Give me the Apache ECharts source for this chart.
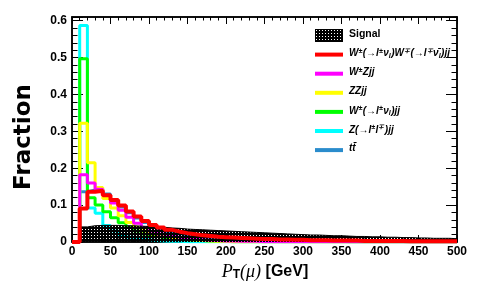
<!DOCTYPE html>
<html>
<head>
<meta charset="utf-8">
<script src="https://cdn.jsdelivr.net/npm/echarts@6/dist/echarts.min.js"></script>
<style>html,body{margin:0;padding:0;background:#fff;}#c{width:477px;height:307px;}</style>
</head>
<body>
<div id="c"></div>
<script>
// Bin low edges (GeV), 10 GeV bins
const binLow = [0,10,20,30,40,50,60,70,80,90,100,110,120,130,140,150,160,170,180,190,200,210,220,230,240,250,260,270,280,290,300,310,320,330,340,350,360,370,380,390,400,410,420,430,440,450,460,470,480,490];
const binHighEnd = 500;
const xTicks = [0,50,100,150,200,250,300,350,400,450,500];
const yTicks = [0,0.1,0.2,0.3,0.4,0.5,0.6];

const legendNames = ['Signal','WW','WZ','ZZ','W','Z','tt'];

const signalVals = [0,0.041,0.044,0.045,0.045,0.045,0.044,0.044,0.043,0.042,0.041,0.040,0.038,0.037,0.035,0.034,0.033,0.032,0.031,0.030,0.029,0.028,0.027,0.026,0.025,0.024,0.023,0.022,0.021,0.020,0.019,0.019,0.018,0.017,0.017,0.016,0.015,0.015,0.014,0.014,0.013,0.013,0.012,0.012,0.011,0.011,0.010,0.010,0.010,0.009];
const wwVals = [0,0.091,0.136,0.139,0.127,0.114,0.099,0.083,0.069,0.057,0.046,0.039,0.033,0.028,0.024,0.021,0.018,0.016,0.014,0.013,0.012,0.011,0.010,0.009,0.008,0.008,0.007,0.007,0.006,0.006,0.005,0.005,0.005,0.004,0.004,0.004,0.004,0.003,0.003,0.003,0.003,0.003,0.003,0.002,0.002,0.002,0.002,0.002,0.002,0.002];
const wzVals = [0,0.182,0.160,0.143,0.126,0.106,0.086,0.067,0.051,0.039,0.029,0.022,0.017,0.013,0.010,0.008,0.006,0.005,0.004,0.003,0.003,0.002,0.002,0.002,0.001,0.001,0.001,0.001,0.001,0.001,0.001,0.001,0.001,0.001,0.001,0.001,0.001,0.001,0.001,0.001,0.001,0.001,0.001,0.001,0.001,0.001,0.001,0.001,0.001,0.001];
const zzVals = [0,0.322,0.215,0.148,0.118,0.092,0.071,0.053,0.040,0.030,0.022,0.016,0.012,0.009,0.007,0.005,0.004,0.003,0.002,0.002,0.001,0.001,0.001,0.001,0.001,0.001,0.001,0.001,0.001,0.001,0.001,0.001,0.001,0.001,0.001,0.001,0.001,0.001,0.001,0.001,0.001,0.001,0.001,0.001,0.001,0.001,0.001,0.001,0.001,0.001];
const wVals = [0,0.497,0.120,0.100,0.082,0.066,0.052,0.040,0.030,0.022,0.016,0.012,0.009,0.007,0.006,0.005,0.004,0.003,0.002,0.002,0.001,0.001,0.001,0.001,0.001,0.001,0.001,0.001,0.001,0.001,0.001,0.001,0.001,0.001,0.001,0.001,0.001,0.001,0.001,0.001,0.001,0.001,0.001,0.001,0.001,0.001,0.001,0.001,0.001,0.001];
const zVals = [0,0.587,0.092,0.078,0.045,0.030,0.020,0.013,0.009,0.006,0.004,0.003,0.002,0.002,0.001,0.001,0.001,0.001,0.001,0.001,0.001,0.001,0.001,0.001,0.001,0.001,0.001,0.001,0.001,0.001,0.001,0.001,0.001,0.001,0.001,0.001,0.001,0.001,0.001,0.001,0.001,0.001,0.001,0.001,0.001,0.001,0.001,0.001,0.001,0.001];
const ttVals = [0,0.136,0.141,0.142,0.130,0.112,0.095,0.079,0.065,0.053,0.043,0.035,0.028,0.023,0.019,0.016,0.013,0.011,0.009,0.008,0.007,0.006,0.005,0.004,0.004,0.003,0.003,0.003,0.002,0.002,0.002,0.002,0.002,0.002,0.002,0.001,0.001,0.001,0.001,0.001,0.001,0.001,0.001,0.001,0.001,0.001,0.001,0.001,0.001,0.001];

function stepData(vals){
  const d = binLow.map((x,i)=>[x, vals[i]]);
  d.push([binHighEnd, vals[vals.length-1]]);
  return d;
}

// dotted black pattern for the signal
const pc = document.createElement('canvas');
pc.width = 3; pc.height = 3;
const pctx = pc.getContext('2d');
pctx.fillStyle = '#000'; pctx.fillRect(0,0,3,3);
pctx.clearRect(1,1,1,1);
const pattern = {image: pc, repeat: 'repeat'};

const chart = echarts.init(document.getElementById('c'), null, {renderer:'canvas'});

function lineSeries(name, vals, color, width, z){
  return {name, type:'line', step:'end', data: stepData(vals), showSymbol:false, symbol:'none',
    lineStyle:{color, width}, itemStyle:{color}, z, animation:false, clip:true};
}

const lblFont = {fontFamily:'Liberation Sans', fontWeight:'bold', fontSize:12, color:'#000'};
const legFont = {fontFamily:'Liberation Sans', fontWeight:'bold', fontStyle:'italic', fontSize:10, color:'#000'};
const supSt = {fontFamily:'Liberation Sans', fontWeight:'bold', fontStyle:'italic', fontSize:7, color:'#000', verticalAlign:'top', padding:[0,0.5,5,0]};
const subSt = {fontFamily:'Liberation Sans', fontWeight:'bold', fontStyle:'italic', fontSize:7, color:'#000', verticalAlign:'bottom', padding:[4,0.5,0,0]};
const legRich = {a: legFont, s: supSt, b: subSt, n:{fontFamily:'Liberation Sans', fontWeight:'bold', fontSize:10.5, color:'#000'}};

const legendTexts = [
  '{n|Signal}',
  '{a|W}{s|±}{a|(→l}{s|±}{a|ν}{b|l}{a|)W}{s|∓}{a|(→l}{s|∓}{a|ν\u0304}{b|l}{a|)jj}',
  '{a|W}{s|±}{a|Zjj}',
  '{a|ZZjj}',
  '{a|W}{s|±}{a|(→l}{s|±}{a|ν}{b|l}{a|)jj}',
  '{a|Z(→l}{s|±}{a|l}{s|∓}{a|)jj}',
  '{a|tt\u0304}'
];
const legendColors = [null,'#ff0000','#ff00ff','#ffff00','#00ff00','#00ffff','#2a8ccc'];

const graphics = [];
legendNames.forEach((nm,i)=>{
  const yc = 35.5 + i*19.1;
  if(i===0){
    graphics.push({type:'rect', left:315, top:29, shape:{width:28, height:13}, style:{fill:pattern}});
  } else {
    graphics.push({type:'rect', left:315, top:yc-2, shape:{width:28, height:4}, style:{fill:legendColors[i]}});
  }
  graphics.push({type:'text', left:349, top:yc-7, style:{text:legendTexts[i], rich:legRich, textVerticalAlign:'top'}});
});
// y axis title
graphics.push({type:'text', x:24, y:137, rotation:Math.PI/2, style:{text:'Fraction', fontFamily:'DejaVu Sans', fontWeight:'bold', fontSize:23, fill:'#000', textAlign:'center', textVerticalAlign:'middle'}});
// x axis title
graphics.push({type:'text', x:265, y:272, style:{
  text:'{p|P}{t|T}{m|(μ)}{g| [GeV]}', textAlign:'center', textVerticalAlign:'middle',
  rich:{
    p:{fontFamily:'Liberation Serif', fontStyle:'italic', fontSize:18, color:'#000'},
    t:{fontFamily:'Liberation Sans', fontWeight:'bold', fontSize:12, color:'#000', verticalAlign:'bottom', padding:[5,0,0,0]},
    m:{fontFamily:'Liberation Serif', fontStyle:'italic', fontSize:18, color:'#000'},
    g:{fontFamily:'Liberation Sans', fontWeight:'bold', fontSize:16, color:'#000'}
  }}});

const axLine = {show:true, onZero:false, lineStyle:{color:'#000', width:1.5}};
const option = {
  animation:false,
  backgroundColor:'#fff',
  grid:{left:72, right:20, top:17, bottom:65, show:true, borderColor:'#000', borderWidth:1.5, backgroundColor:'transparent'},
  xAxis:[
    {type:'value', min:xTicks[0], max:xTicks[xTicks.length-1], interval:50, position:'bottom',
     axisLine:axLine, axisTick:{show:true, inside:true, length:7, lineStyle:{color:'#000', width:1}},
     minorTick:{show:true, splitNumber:5, length:3.5, lineStyle:{color:'#000', width:1}},
     axisLabel:Object.assign({margin:4}, lblFont), splitLine:{show:false}},
    {type:'value', min:xTicks[0], max:xTicks[xTicks.length-1], interval:50, position:'top',
     axisLine:axLine, axisTick:{show:true, inside:true, length:7, lineStyle:{color:'#000', width:1}},
     minorTick:{show:true, splitNumber:5, length:3.5, lineStyle:{color:'#000', width:1}},
     axisLabel:{show:false}, splitLine:{show:false}}
  ],
  yAxis:[
    {type:'value', min:yTicks[0], max:0.61, interval:0.1, position:'left',
     axisLine:axLine, axisTick:{show:true, inside:true, length:11, lineStyle:{color:'#000', width:1}},
     minorTick:{show:true, splitNumber:5, length:5.5, lineStyle:{color:'#000', width:1}},
     axisLabel:Object.assign({margin:5, showMaxLabel:false, formatter:v=> (yTicks.indexOf(Math.round(v*10)/10)>=0 && Math.abs(v*10-Math.round(v*10))<1e-6) ? (v===0?'0':v.toFixed(1)) : ''}, lblFont),
     splitLine:{show:false}},
    {type:'value', min:yTicks[0], max:0.61, interval:0.1, position:'right',
     axisLine:axLine, axisTick:{show:true, inside:true, length:11, lineStyle:{color:'#000', width:1}},
     minorTick:{show:true, splitNumber:5, length:5.5, lineStyle:{color:'#000', width:1}},
     axisLabel:{show:false}, splitLine:{show:false}}
  ],
  graphic: graphics,
  series:[
    lineSeries('tt', ttVals, '#2a8ccc', 3, 2),
    lineSeries('Z', zVals, '#00ffff', 3, 3),
    lineSeries('W', wVals, '#00ff00', 3, 4),
    lineSeries('ZZ', zzVals, '#ffff00', 3, 5),
    lineSeries('WZ', wzVals, '#ff00ff', 3, 6),
    {name:'Signal', type:'line', step:'end', data:stepData(signalVals), showSymbol:false, symbol:'none',
     lineStyle:{color:'#000', width:1}, areaStyle:{color:pattern, opacity:1, origin:'start'}, z:7, animation:false},
    lineSeries('WW', wwVals, '#ff0000', 4, 8)
  ]
};
chart.setOption(option);
</script>
</body>
</html>
